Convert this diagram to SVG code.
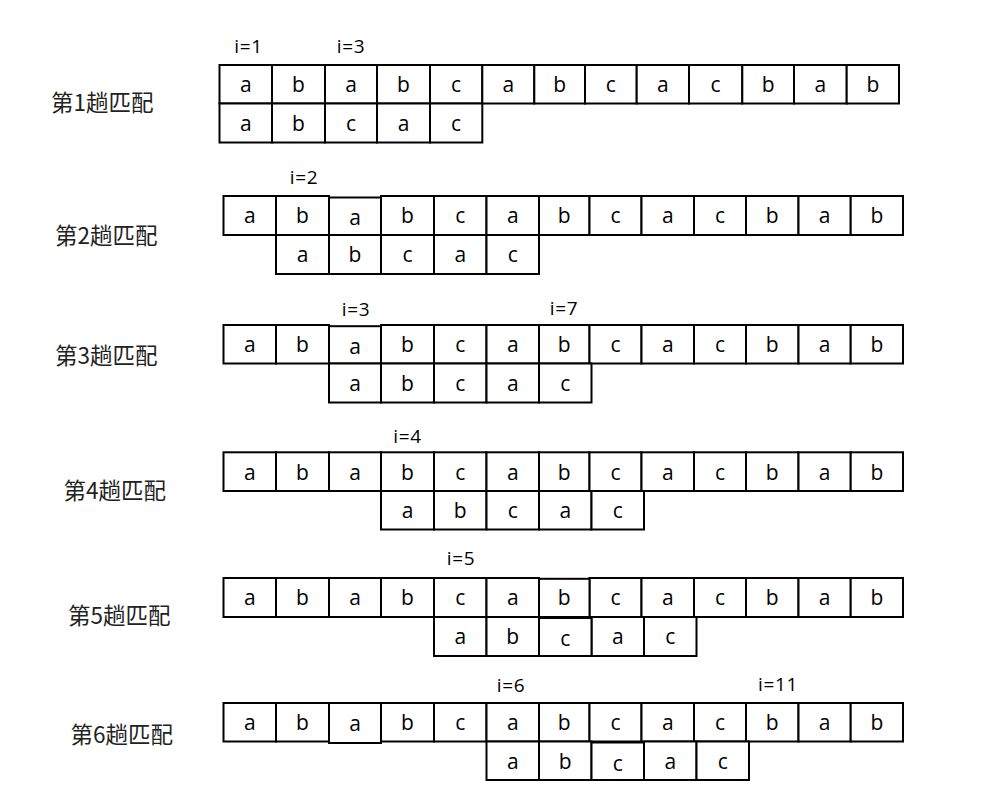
<svg xmlns="http://www.w3.org/2000/svg" width="998" height="802" viewBox="0 0 998 802">
<style>
.cell{fill:#fff;stroke:#000;stroke-width:2}
.t{font-family:"Open Sans","Liberation Sans",sans-serif;font-size:21px;text-anchor:middle;fill:#000}
.i{font-family:"Open Sans","Liberation Sans",sans-serif;font-size:19px;letter-spacing:0.6px;text-anchor:middle;fill:#000}
.c{font-family:"Noto Sans CJK SC",sans-serif;font-size:22.5px;fill:#222}
</style>
<rect width="998" height="802" fill="#fff"/>

<g id="row1">
<text class="c" x="51" y="111">第1趟匹配</text>
<text class="i" x="248.5" y="53">i=1</text>
<text class="i" x="351" y="53">i=3</text>
<g id="row1-main">
<rect class="cell" x="219.5" y="65" width="52.5" height="38.5"/>
<rect class="cell" x="272" y="65" width="53" height="38.5"/>
<rect class="cell" x="325" y="65" width="52" height="38.5"/>
<rect class="cell" x="377" y="65" width="53" height="38.5"/>
<rect class="cell" x="430" y="65" width="52.3" height="38.5"/>
<rect class="cell" x="482.3" y="65" width="52" height="38.5"/>
<rect class="cell" x="534.3" y="65" width="50.7" height="38.5"/>
<rect class="cell" x="585" y="65" width="51.7" height="38.5"/>
<rect class="cell" x="636.7" y="65" width="52.3" height="38.5"/>
<rect class="cell" x="689" y="65" width="53.3" height="38.5"/>
<rect class="cell" x="742.3" y="65" width="51.7" height="38.5"/>
<rect class="cell" x="794" y="65" width="52.7" height="38.5"/>
<rect class="cell" x="846.7" y="65" width="52.3" height="38.5"/>
<text class="t" x="245.75" y="92">a</text>
<text class="t" x="298.5" y="92">b</text>
<text class="t" x="351" y="92">a</text>
<text class="t" x="403.5" y="92">b</text>
<text class="t" x="456.15" y="92">c</text>
<text class="t" x="508.3" y="92">a</text>
<text class="t" x="559.65" y="92">b</text>
<text class="t" x="610.85" y="92">c</text>
<text class="t" x="662.85" y="92">a</text>
<text class="t" x="715.65" y="92">c</text>
<text class="t" x="768.15" y="92">b</text>
<text class="t" x="820.35" y="92">a</text>
<text class="t" x="872.85" y="92">b</text>
</g>
<g id="row1-pattern">
<rect class="cell" x="219.5" y="103.5" width="52.5" height="39"/>
<rect class="cell" x="272" y="103.5" width="53" height="39"/>
<rect class="cell" x="325" y="103.5" width="52" height="39"/>
<rect class="cell" x="377" y="103.5" width="53" height="39"/>
<rect class="cell" x="430" y="103.5" width="52.3" height="39"/>
<text class="t" x="245.75" y="131">a</text>
<text class="t" x="298.5" y="131">b</text>
<text class="t" x="351" y="131">c</text>
<text class="t" x="403.5" y="131">a</text>
<text class="t" x="456.15" y="131">c</text>
</g>
</g>

<g id="row2">
<text class="c" x="55" y="243.5">第2趟匹配</text>
<text class="i" x="304" y="184">i=2</text>
<g id="row2-main">
<rect class="cell" x="223.5" y="196" width="52.5" height="39"/>
<rect class="cell" x="276" y="196" width="53" height="39"/>
<rect class="cell" x="381" y="196" width="53" height="39"/>
<rect class="cell" x="434" y="196" width="52.5" height="39"/>
<rect class="cell" x="486.5" y="196" width="52.5" height="39"/>
<rect class="cell" x="539" y="196" width="50.5" height="39"/>
<rect class="cell" x="589.5" y="196" width="52" height="39"/>
<rect class="cell" x="641.5" y="196" width="52.5" height="39"/>
<rect class="cell" x="694" y="196" width="52" height="39"/>
<rect class="cell" x="746" y="196" width="52.5" height="39"/>
<rect class="cell" x="798.5" y="196" width="52.2" height="39"/>
<rect class="cell" x="850.7" y="196" width="52.3" height="39"/>
<rect class="cell" x="329" y="197.5" width="52" height="37.5"/>
<text class="t" x="249.75" y="223">a</text>
<text class="t" x="302.5" y="223">b</text>
<text class="t" x="355" y="225">a</text>
<text class="t" x="407.5" y="223">b</text>
<text class="t" x="460.25" y="223">c</text>
<text class="t" x="512.75" y="223">a</text>
<text class="t" x="564.25" y="223">b</text>
<text class="t" x="615.5" y="223">c</text>
<text class="t" x="667.75" y="223">a</text>
<text class="t" x="720" y="223">c</text>
<text class="t" x="772.25" y="223">b</text>
<text class="t" x="824.6" y="223">a</text>
<text class="t" x="876.85" y="223">b</text>
</g>
<g id="row2-pattern">
<rect class="cell" x="276" y="235" width="53" height="39"/>
<rect class="cell" x="329" y="235" width="52" height="39"/>
<rect class="cell" x="381" y="235" width="53" height="39"/>
<rect class="cell" x="434" y="235" width="52.5" height="39"/>
<rect class="cell" x="486.5" y="235" width="52.5" height="39"/>
<text class="t" x="302.5" y="262">a</text>
<text class="t" x="355" y="262">b</text>
<text class="t" x="407.5" y="262">c</text>
<text class="t" x="460.25" y="262">a</text>
<text class="t" x="512.75" y="262">c</text>
</g>
</g>

<g id="row3">
<text class="c" x="55" y="364">第3趟匹配</text>
<text class="i" x="356" y="315.5">i=3</text>
<text class="i" x="564" y="315">i=7</text>
<g id="row3-main">
<rect class="cell" x="223.5" y="325" width="52.5" height="38.5"/>
<rect class="cell" x="276" y="325" width="53" height="38.5"/>
<rect class="cell" x="381" y="325" width="53" height="38.5"/>
<rect class="cell" x="434" y="325" width="52.5" height="38.5"/>
<rect class="cell" x="486.5" y="325" width="52.5" height="38.5"/>
<rect class="cell" x="539" y="325" width="50.5" height="38.5"/>
<rect class="cell" x="589.5" y="325" width="52" height="38.5"/>
<rect class="cell" x="641.5" y="325" width="52.5" height="38.5"/>
<rect class="cell" x="694" y="325" width="52" height="38.5"/>
<rect class="cell" x="746" y="325" width="52.5" height="38.5"/>
<rect class="cell" x="798.5" y="325" width="52.2" height="38.5"/>
<rect class="cell" x="850.7" y="325" width="52.3" height="38.5"/>
<rect class="cell" x="329" y="326.2" width="52" height="37.3"/>
<text class="t" x="249.75" y="352">a</text>
<text class="t" x="302.5" y="352">b</text>
<text class="t" x="355" y="353.5">a</text>
<text class="t" x="407.5" y="352">b</text>
<text class="t" x="460.25" y="352">c</text>
<text class="t" x="512.75" y="352">a</text>
<text class="t" x="564.25" y="352">b</text>
<text class="t" x="615.5" y="352">c</text>
<text class="t" x="667.75" y="352">a</text>
<text class="t" x="720" y="352">c</text>
<text class="t" x="772.25" y="352">b</text>
<text class="t" x="824.6" y="352">a</text>
<text class="t" x="876.85" y="352">b</text>
</g>
<g id="row3-pattern">
<rect class="cell" x="329" y="363.5" width="52" height="39"/>
<rect class="cell" x="381" y="363.5" width="53" height="39"/>
<rect class="cell" x="434" y="363.5" width="52.5" height="39"/>
<rect class="cell" x="486.5" y="363.5" width="52.5" height="39"/>
<rect class="cell" x="539" y="363.5" width="52.5" height="39"/>
<text class="t" x="355" y="391">a</text>
<text class="t" x="407.5" y="391">b</text>
<text class="t" x="460.25" y="391">c</text>
<text class="t" x="512.75" y="391">a</text>
<text class="t" x="565.25" y="391">c</text>
</g>
</g>

<g id="row4">
<text class="c" x="63.5" y="498.5">第4趟匹配</text>
<text class="i" x="407.5" y="443">i=4</text>
<g id="row4-main">
<rect class="cell" x="223.5" y="452.3" width="52.5" height="38.7"/>
<rect class="cell" x="276" y="452.3" width="53" height="38.7"/>
<rect class="cell" x="329" y="452.3" width="52" height="38.7"/>
<rect class="cell" x="381" y="452.3" width="53" height="38.7"/>
<rect class="cell" x="434" y="452.3" width="52.5" height="38.7"/>
<rect class="cell" x="486.5" y="452.3" width="52.5" height="38.7"/>
<rect class="cell" x="539" y="452.3" width="50.5" height="38.7"/>
<rect class="cell" x="589.5" y="452.3" width="52" height="38.7"/>
<rect class="cell" x="641.5" y="452.3" width="52.5" height="38.7"/>
<rect class="cell" x="694" y="452.3" width="52" height="38.7"/>
<rect class="cell" x="746" y="452.3" width="52.5" height="38.7"/>
<rect class="cell" x="798.5" y="452.3" width="52.2" height="38.7"/>
<rect class="cell" x="850.7" y="452.3" width="52.3" height="38.7"/>
<text class="t" x="249.75" y="479.5">a</text>
<text class="t" x="302.5" y="479.5">b</text>
<text class="t" x="355" y="479.5">a</text>
<text class="t" x="407.5" y="479.5">b</text>
<text class="t" x="460.25" y="479.5">c</text>
<text class="t" x="512.75" y="479.5">a</text>
<text class="t" x="564.25" y="479.5">b</text>
<text class="t" x="615.5" y="479.5">c</text>
<text class="t" x="667.75" y="479.5">a</text>
<text class="t" x="720" y="479.5">c</text>
<text class="t" x="772.25" y="479.5">b</text>
<text class="t" x="824.6" y="479.5">a</text>
<text class="t" x="876.85" y="479.5">b</text>
</g>
<g id="row4-pattern">
<rect class="cell" x="381" y="491" width="53" height="38.5"/>
<rect class="cell" x="434" y="491" width="52.5" height="38.5"/>
<rect class="cell" x="486.5" y="491" width="52.5" height="38.5"/>
<rect class="cell" x="539" y="491" width="52.5" height="38.5"/>
<rect class="cell" x="591.5" y="491" width="52.5" height="38.5"/>
<text class="t" x="407.5" y="518">a</text>
<text class="t" x="460.25" y="518">b</text>
<text class="t" x="512.75" y="518">c</text>
<text class="t" x="565.25" y="518">a</text>
<text class="t" x="617.75" y="518">c</text>
</g>
</g>

<g id="row5">
<text class="c" x="68" y="624">第5趟匹配</text>
<text class="i" x="461" y="565">i=5</text>
<g id="row5-main">
<rect class="cell" x="223.5" y="578" width="52.5" height="39"/>
<rect class="cell" x="276" y="578" width="53" height="39"/>
<rect class="cell" x="329" y="578" width="52" height="39"/>
<rect class="cell" x="381" y="578" width="53" height="39"/>
<rect class="cell" x="434" y="578" width="52.5" height="39"/>
<rect class="cell" x="486.5" y="578" width="52.5" height="39"/>
<rect class="cell" x="589.5" y="578" width="52" height="39"/>
<rect class="cell" x="641.5" y="578" width="52.5" height="39"/>
<rect class="cell" x="694" y="578" width="52" height="39"/>
<rect class="cell" x="746" y="578" width="52.5" height="39"/>
<rect class="cell" x="798.5" y="578" width="52.2" height="39"/>
<rect class="cell" x="850.7" y="578" width="52.3" height="39"/>
<rect class="cell" x="539" y="578.8" width="50.5" height="38.2"/>
<text class="t" x="249.75" y="605">a</text>
<text class="t" x="302.5" y="605">b</text>
<text class="t" x="355" y="605">a</text>
<text class="t" x="407.5" y="605">b</text>
<text class="t" x="460.25" y="605">c</text>
<text class="t" x="512.75" y="605">a</text>
<text class="t" x="564.25" y="605">b</text>
<text class="t" x="615.5" y="605">c</text>
<text class="t" x="667.75" y="605">a</text>
<text class="t" x="720" y="605">c</text>
<text class="t" x="772.25" y="605">b</text>
<text class="t" x="824.6" y="605">a</text>
<text class="t" x="876.85" y="605">b</text>
</g>
<g id="row5-pattern">
<rect class="cell" x="434" y="617" width="52.5" height="39"/>
<rect class="cell" x="486.5" y="617" width="52.5" height="39"/>
<rect class="cell" x="591.5" y="617" width="52.5" height="39"/>
<rect class="cell" x="644" y="617" width="52.5" height="39"/>
<rect class="cell" x="539" y="618" width="52.5" height="38"/>
<text class="t" x="460.25" y="644">a</text>
<text class="t" x="512.75" y="644">b</text>
<text class="t" x="565.25" y="646">c</text>
<text class="t" x="617.75" y="644">a</text>
<text class="t" x="670.25" y="644">c</text>
</g>
</g>

<g id="row6">
<text class="c" x="70.5" y="742.5">第6趟匹配</text>
<text class="i" x="511" y="691.5">i=6</text>
<text class="i" x="778" y="691">i=11</text>
<g id="row6-main">
<rect class="cell" x="223.5" y="703" width="52.5" height="38.5"/>
<rect class="cell" x="276" y="703" width="53" height="38.5"/>
<rect class="cell" x="381" y="703" width="53" height="38.5"/>
<rect class="cell" x="434" y="703" width="52.5" height="38.5"/>
<rect class="cell" x="486.5" y="703" width="52.5" height="38.5"/>
<rect class="cell" x="539" y="703" width="50.5" height="38.5"/>
<rect class="cell" x="589.5" y="703" width="52" height="38.5"/>
<rect class="cell" x="641.5" y="703" width="52.5" height="38.5"/>
<rect class="cell" x="694" y="703" width="52" height="38.5"/>
<rect class="cell" x="746" y="703" width="52.5" height="38.5"/>
<rect class="cell" x="798.5" y="703" width="52.2" height="38.5"/>
<rect class="cell" x="850.7" y="703" width="52.3" height="38.5"/>
<rect class="cell" x="329" y="703" width="52" height="40"/>
<text class="t" x="249.75" y="730">a</text>
<text class="t" x="302.5" y="730">b</text>
<text class="t" x="355" y="731">a</text>
<text class="t" x="407.5" y="730">b</text>
<text class="t" x="460.25" y="730">c</text>
<text class="t" x="512.75" y="730">a</text>
<text class="t" x="564.25" y="730">b</text>
<text class="t" x="615.5" y="730">c</text>
<text class="t" x="667.75" y="730">a</text>
<text class="t" x="720" y="730">c</text>
<text class="t" x="772.25" y="730">b</text>
<text class="t" x="824.6" y="730">a</text>
<text class="t" x="876.85" y="730">b</text>
</g>
<g id="row6-pattern">
<rect class="cell" x="486.5" y="741.5" width="52.5" height="38.5"/>
<rect class="cell" x="539" y="741.5" width="52.5" height="38.5"/>
<rect class="cell" x="644" y="741.5" width="52.5" height="38.5"/>
<rect class="cell" x="696.5" y="741.5" width="52.5" height="38.5"/>
<rect class="cell" x="591.5" y="742.5" width="52.5" height="37.5"/>
<text class="t" x="512.75" y="769">a</text>
<text class="t" x="565.25" y="769">b</text>
<text class="t" x="617.75" y="771">c</text>
<text class="t" x="670.25" y="769">a</text>
<text class="t" x="722.75" y="769">c</text>
</g>
</g>
</svg>
